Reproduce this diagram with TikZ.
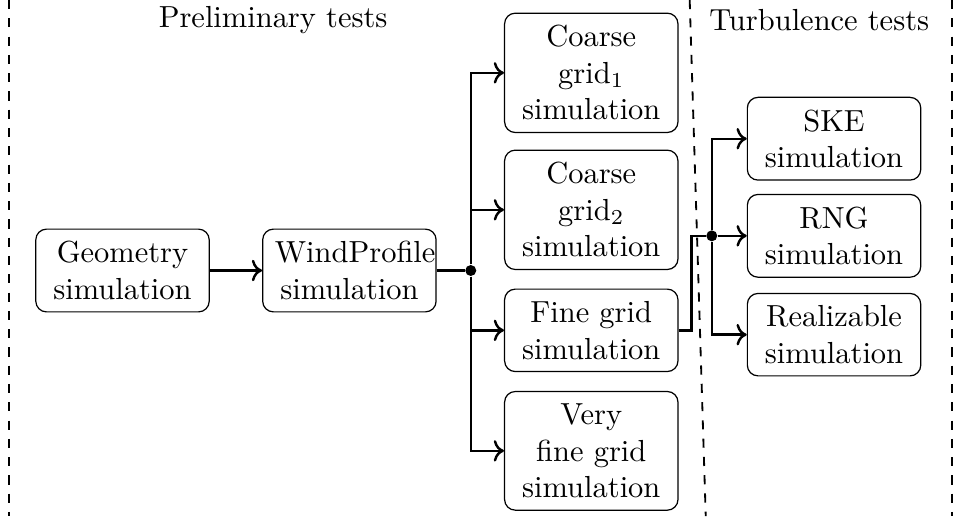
\documentclass[tikz,border=0pt]{standalone}
\usepackage{amsmath,amssymb}
\usepackage{tikz}
\usetikzlibrary{arrows.meta,calc,positioning}

\begin{document}
\begin{tikzpicture}[
  box/.style={draw, rounded corners=3.5pt, text width=48.9pt, inner sep=4pt, align=center},
  head/.style={inner sep=2pt},
  dot/.style={circle, fill, inner sep=0pt, minimum size=3.6pt},
  line/.style={thick},
  arr/.style={->, thick},
  sep/.style={dashed, semithick}
]
\useasboundingbox (0,0) rectangle (11.015,-5.952);

% Section separators and headings
\draw[sep] (0.107,0) -- (0.107,-5.952);
\draw[sep] (7.955,0) -- (8.140,-5.952);
\draw[sep] (10.98,0) -- (10.98,-5.952);
\node[head] (prelim) at (3.15,-0.235) {Preliminary tests};
\node[head] (turb) at (9.45,-0.235) {Turbulence tests};

% Preliminary tests
\node[box] (geom) at (1.413,-3.12) {Geometry\\simulation};
\node[box] (wind) at (4.03,-3.12) {WindProfile\\simulation};
\node[dot] (dota) at (5.43,-3.12) {};
\node[box] (coarsea) at (6.82,-0.84) {Coarse\\grid$_1$\\simulation};
\node[box] (coarseb) at (6.82,-2.42) {Coarse\\grid$_2$\\simulation};
\node[box] (fine) at (6.82,-3.81) {Fine grid\\simulation};
\node[box] (vfine) at (6.82,-5.20) {Very\\fine grid\\simulation};

\draw[arr] (geom) -- (wind);
\draw[line] (wind) -- (dota);
\draw[arr] (dota) |- (coarsea);
\draw[arr] (dota) |- (coarseb);
\draw[arr] (dota) |- (fine);
\draw[arr] (dota) |- (vfine);

% Turbulence tests
\node[dot] (dotb) at (8.21,-2.72) {};
\node[box] (ske) at (9.62,-1.60) {SKE\\simulation};
\node[box] (rng) at (9.62,-2.72) {RNG\\simulation};
\node[box] (real) at (9.62,-3.86) {Realizable\\simulation};

\draw[line] (fine.east) -- ++(0.15,0) |- (dotb);
\draw[arr] (dotb) |- (ske);
\draw[arr] (dotb) -- (rng);
\draw[arr] (dotb) |- (real);

\end{tikzpicture}
\end{document}
